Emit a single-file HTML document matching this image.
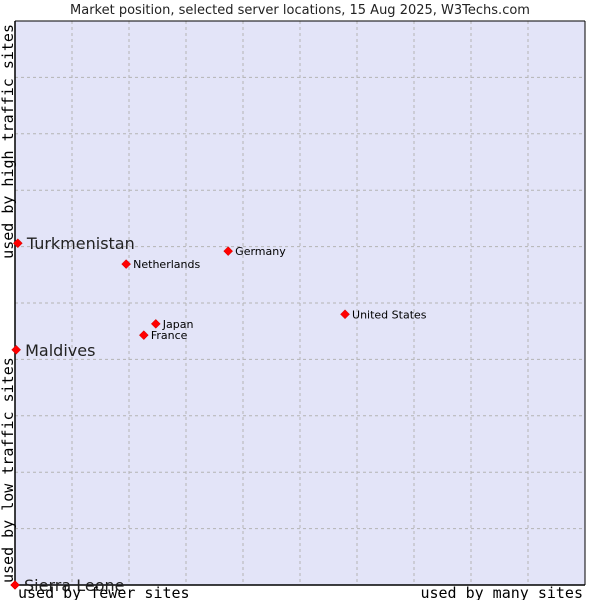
<!DOCTYPE html>
<html><head><meta charset="utf-8"><style>
html,body{margin:0;padding:0;background:#fff;width:600px;height:600px;overflow:hidden}
svg text{font-family:"DejaVu Sans","Liberation Sans",sans-serif}
</style></head><body>
<svg id="chart" width="600" height="600" xmlns="http://www.w3.org/2000/svg">
<text x="300" y="14" text-anchor="middle" font-size="13" fill="#222">Market position, selected server locations, 15 Aug 2025, W3Techs.com</text>
<rect x="15" y="21" width="570" height="564" fill="#e3e4f8" stroke="none"/>
<g id="grid"></g>
<line x1="15" y1="21" x2="15" y2="585" stroke="#000" stroke-width="1.5"/>
<line x1="15" y1="585" x2="585" y2="585" stroke="#000" stroke-width="1.5"/>
<line x1="15" y1="21" x2="585" y2="21" stroke="#000" stroke-width="1"/>
<line x1="585" y1="21" x2="585" y2="585" stroke="#000" stroke-width="1"/>
<g id="points"></g>
<text x="18" y="598" font-family="'DejaVu Sans Mono','Liberation Mono',monospace" style="font-family:'DejaVu Sans Mono','Liberation Mono',monospace" font-size="15" fill="#000">used by fewer sites</text>
<text x="583" y="598" text-anchor="end" style="font-family:'DejaVu Sans Mono','Liberation Mono',monospace" font-size="15" fill="#000">used by many sites</text>
<text transform="translate(13,583) rotate(-90)" style="font-family:'DejaVu Sans Mono','Liberation Mono',monospace" font-size="15" fill="#000">used by low traffic sites</text>
<text transform="translate(13,24) rotate(-90)" text-anchor="end" style="font-family:'DejaVu Sans Mono','Liberation Mono',monospace" font-size="15" fill="#000">used by high traffic sites</text>
</svg>
<script>
const countries = ["Turkmenistan","Maldives","Sierra Leone","Netherlands","Germany","Japan","France","United States"];
const xValues = [0.5, 0.2, 0, 19.5, 37.4, 24.7, 22.6, 57.9];
const yValues = [60.6, 41.7, 0, 56.9, 59.2, 46.3, 44.3, 48.0];
const bigLabel = [true, true, true, false, false, false, false, false];
const gridTicks = [10,20,30,40,50,60,70,80,90];

const NS = "http://www.w3.org/2000/svg";
const X0 = 15, X1 = 585, Y0 = 585, Y1 = 21;
function xScale(v){ return X0 + v/100*(X1-X0); }
function yScale(v){ return Y0 - v/100*(Y0-Y1); }

const grid = document.getElementById('grid');
gridTicks.forEach(t => {
  const v = document.createElementNS(NS,'line');
  v.setAttribute('x1',xScale(t)); v.setAttribute('x2',xScale(t));
  v.setAttribute('y1',Y1); v.setAttribute('y2',Y0);
  v.setAttribute('stroke','#b4b4b4'); v.setAttribute('stroke-dasharray','3,3');
  
  
  grid.appendChild(v);
  const h = document.createElementNS(NS,'line');
  h.setAttribute('y1',yScale(t)); h.setAttribute('y2',yScale(t));
  h.setAttribute('x1',X0); h.setAttribute('x2',X1);
  h.setAttribute('stroke','#b4b4b4'); h.setAttribute('stroke-dasharray','3,3');
  
  
  grid.appendChild(h);
});

const pts = document.getElementById('points');
countries.forEach((c,i) => {
  const x = xScale(xValues[i]), y = yScale(yValues[i]);
  const p = document.createElementNS(NS,'path');
  p.setAttribute('d',`M${x},${y-4.5} L${x+4.5},${y} L${x},${y+4.5} L${x-4.5},${y} Z`);
  p.setAttribute('fill','#ff0000');
  p.setAttribute('stroke','#cc0000');
  p.setAttribute('stroke-width','0.5');
  
  
  pts.appendChild(p);
  const t = document.createElementNS(NS,'text');
  t.textContent = c;
  const big = bigLabel[i];
  t.setAttribute('x', x + (big ? 9 : 7));
  t.setAttribute('y', y + (big ? 6 : 4));
  t.setAttribute('font-size', big ? '16' : '11');
  t.setAttribute('fill', big ? '#222' : '#000');
  
  
  pts.appendChild(t);
});
</script>
</body></html>
